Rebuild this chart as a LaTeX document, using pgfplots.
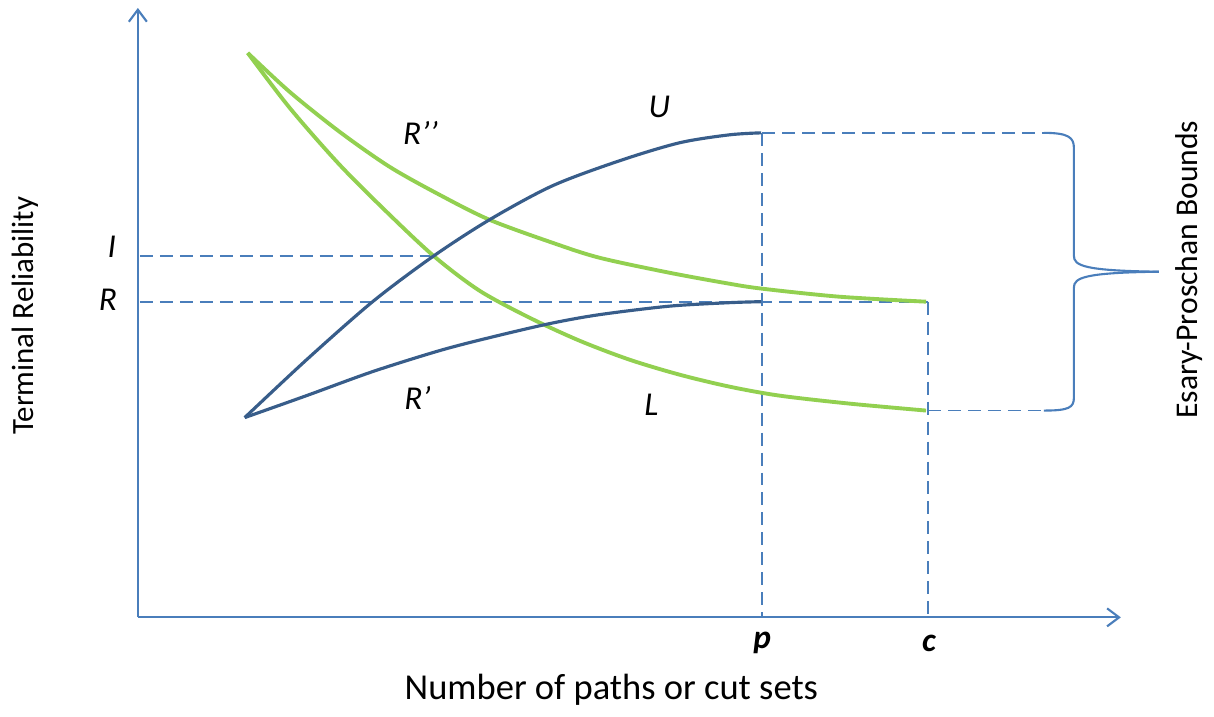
\documentclass[border=0pt]{standalone}
\usepackage{fontspec}
\setmainfont{Carlito}
\usepackage{pgfplots}
\pgfplotsset{compat=1.18}
\usetikzlibrary{arrows.meta}

\definecolor{axblue}{HTML}{4A7EBB}
\definecolor{curveblue}{HTML}{385D8A}
\definecolor{curvegreen}{HTML}{92D050}

\begin{document}
\begin{tikzpicture}
\begin{axis}[
    width=12.14cm, height=7.06cm, scale only axis,
    xmin=0, xmax=1214, ymin=0, ymax=706, y dir=reverse,
    axis lines=none, clip=false,
    dashed line/.style={axblue, line width=0.5pt, dash pattern=on 1.3mm off 0.7mm},
]
% keep page size = picture
\path (axis cs:0,0) rectangle (axis cs:1214,706);

% axes
\addplot[axblue, line width=0.6pt, -{Straight Barb[length=1.2mm,width=1.8mm]}]
    coordinates {(138,618) (138,8)};
\addplot[axblue, line width=0.6pt, -{Straight Barb[length=1.2mm,width=1.8mm]}]
    coordinates {(138,618) (1122,618)};

% dashed guides
\addplot[dashed line] coordinates {(140,256) (433,256)};
\addplot[dashed line] coordinates {(140,302) (929,302)};
\addplot[dashed line] coordinates {(763,133) (763,618)};
\addplot[dashed line] coordinates {(929,302) (929,618)};
\addplot[dashed line] coordinates {(763,133) (1045,133)};
\addplot[dashed line] coordinates {(929,411) (1045,411)};

% green curves (R'' and L)
\addplot[curvegreen, line width=1.1pt, smooth] coordinates {
    (248,53) (290,92) (340,132) (390,167) (440,195) (490,220) (553,243)
    (600,258) (670,273) (730,284) (763,289) (840,297) (927,302)};
\addplot[curvegreen, line width=1.1pt, smooth] coordinates {
    (248,53) (290,108) (340,165) (390,215) (435,257) (480,291) (530,318)
    (580,341) (630,360) (680,375) (730,387) (780,396) (850,404) (927,411)};

% blue curves (U and R')
\addplot[curveblue, line width=0.9pt, smooth] coordinates {
    (245,418) (307,360) (373,302) (433,257) (490,220) (553,186) (620,161)
    (680,143) (730,135) (762,133)};
\addplot[curveblue, line width=0.9pt, smooth] coordinates {
    (245,418) (307,396) (373,372) (440,351) (490,338) (550,324) (600,315)
    (670,306.5) (730,303) (762,302)};

% brace
\draw[axblue, line width=0.6pt]
    (axis cs:1045,133) .. controls (axis cs:1070,133) and (axis cs:1075,138) .. (axis cs:1075,148)
    -- (axis cs:1075,256) .. controls (axis cs:1075,266) and (axis cs:1085,271) .. (axis cs:1160,272);
\draw[axblue, line width=0.6pt]
    (axis cs:1160,272) .. controls (axis cs:1085,273) and (axis cs:1075,278) .. (axis cs:1075,288)
    -- (axis cs:1075,398) .. controls (axis cs:1075,408) and (axis cs:1070,411) .. (axis cs:1045,411);

% labels
\node[font=\fontsize{10.4}{12}\selectfont] at (axis cs:612,690) {Number of paths or cut sets};
\node[font=\fontsize{8.8}{10}\selectfont, rotate=90] at (axis cs:25,316) {Terminal Reliability};
\node[font=\fontsize{9}{11}\selectfont, rotate=90] at (axis cs:1190,270) {Esary-Proschan Bounds};

\node[font=\fontsize{9.5}{11}\selectfont\itshape] at (axis cs:112,247) {I};
\node[font=\fontsize{9.5}{11}\selectfont\itshape] at (axis cs:108,300) {R};
\node[font=\fontsize{9.5}{11}\selectfont\itshape] at (axis cs:660,107) {U};
\node[font=\fontsize{9.5}{11}\selectfont\itshape] at (axis cs:421,133) {R’’};
\node[font=\fontsize{9.5}{11}\selectfont\itshape] at (axis cs:418,398) {R’};
\node[font=\fontsize{9.5}{11}\selectfont\itshape] at (axis cs:652,405) {L};
\node[font=\fontsize{9.5}{11}\selectfont\bfseries\itshape] at (axis cs:763,644) {p};
\node[font=\fontsize{9.5}{11}\selectfont\bfseries\itshape] at (axis cs:930,644) {c};
\end{axis}
\end{tikzpicture}
\end{document}
